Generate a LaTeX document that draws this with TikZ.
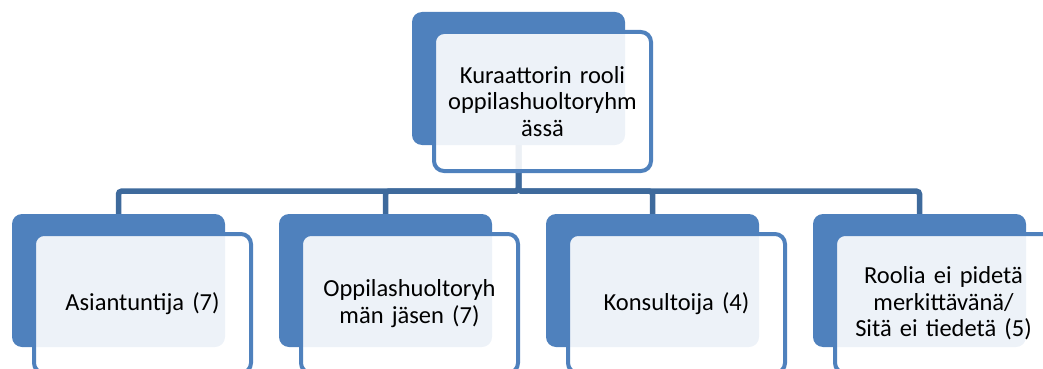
\documentclass[tikz,border=0pt]{standalone}
\usepackage{fontspec}
\setmainfont{Carlito}
\usetikzlibrary{positioning}

\definecolor{boxblue}{HTML}{4F81BD}
\definecolor{linkblue}{HTML}{3E6A9C}

\tikzset{
	back/.style={rectangle, fill=boxblue, rounded corners=10pt, minimum width=213pt, minimum height=133pt, inner sep=0pt},
	card/.style={rectangle, draw=boxblue, line width=4pt, fill=white, fill opacity=0.9, text opacity=1, rounded corners=10pt, minimum width=217pt, minimum height=139pt, text width=210pt, align=center, inner sep=0pt, font=\fontsize{24.5}{26.5}\selectfont},
	link/.style={draw=linkblue, line width=5.5pt, rounded corners=3pt}
}

\begin{document}
\begin{tikzpicture}[x=1pt, y=1pt]
	\useasboundingbox (0,0) rectangle (1043,-369);
	
	\node[back] (top) at (518.5,-78.5) {};
	
	\node[back] (asi) at (118.5,-280.5) {};
	\node[back, right of=asi, node distance=267pt] (jas) {};
	\node[back, right of=jas, node distance=267pt] (kon) {};
	\node[back, right of=kon, node distance=267pt] (roo) {};
	
	\foreach \kid in {asi,jas,kon,roo}
		\draw[link] (top.south) -- ++(0,-46) -| (\kid.north);
	
	\node[card, shift={(24pt,-23pt)}] (topcard) at (top) {Kuraattorin rooli\\oppilashuoltoryhm\\ässä};
	
	\node[card, shift={(24pt,-23pt)}] (asicard) at (asi) {Asiantuntija (7)};
	\node[card, shift={(24pt,-23pt)}] (jascard) at (jas) {Oppilashuoltoryh\\män jäsen (7)};
	\node[card, shift={(24pt,-23pt)}] (koncard) at (kon) {Konsultoija (4)};
	\node[card, shift={(24pt,-23pt)}] (roocard) at (roo) {Roolia ei pidetä\\merkittävänä/\\Sitä ei tiedetä (5)};
\end{tikzpicture}
\end{document}
